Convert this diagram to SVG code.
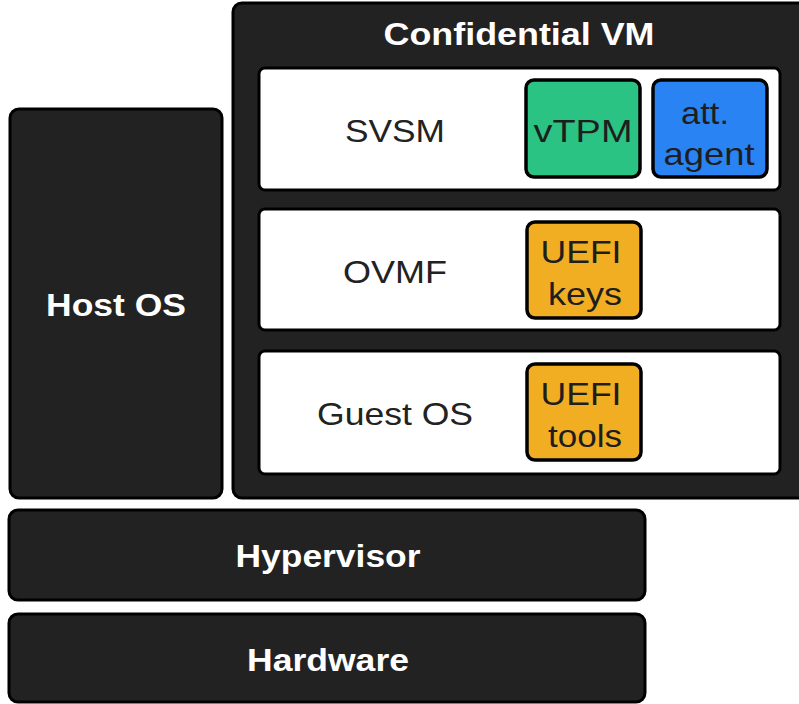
<svg xmlns="http://www.w3.org/2000/svg" width="799" height="704" viewBox="0 0 799 704">
<style>
.dark{fill:#222222;stroke:#000;stroke-width:3}
.white{fill:#ffffff;stroke:#000;stroke-width:3}
.chip{stroke:#000;stroke-width:3.5}
.t{font-family:"Liberation Sans",Arial,sans-serif;font-size:32px;text-anchor:middle}
.tb{font-family:"Liberation Sans",Arial,sans-serif;font-size:31px;font-weight:bold;fill:#ffffff;text-anchor:middle}
.dk{fill:#222222}
.ck{fill:#1e1e1e}
</style>
<rect width="799" height="704" fill="#ffffff"/>
<g id="confidential-vm">
<rect class="dark" x="233" y="3" width="580" height="495" rx="9"/>
<text class="tb" x="519" y="45" textLength="271" lengthAdjust="spacingAndGlyphs">Confidential VM</text>
</g>
<g id="svsm">
<rect class="white" x="259" y="68" width="521" height="122" rx="6"/>
<text class="t dk" x="395" y="142" textLength="100" lengthAdjust="spacingAndGlyphs">SVSM</text>
</g>
<g id="vtpm">
<rect class="chip" x="526" y="80" width="114" height="97" rx="8" fill="#2BC384"/>
<text class="t ck" x="583" y="142" textLength="99" lengthAdjust="spacingAndGlyphs">vTPM</text>
</g>
<g id="att-agent">
<rect class="chip" x="653" y="80" width="114" height="97" rx="8" fill="#2A83F3"/>
<text class="t ck" x="705" y="124" textLength="48" lengthAdjust="spacingAndGlyphs">att.</text>
<text class="t ck" x="709" y="165" textLength="91" lengthAdjust="spacingAndGlyphs">agent</text>
</g>
<g id="ovmf">
<rect class="white" x="259" y="209" width="521" height="121" rx="6"/>
<text class="t dk" x="395" y="283" textLength="104" lengthAdjust="spacingAndGlyphs">OVMF</text>
</g>
<g id="uefi-keys">
<rect class="chip" x="527" y="222" width="114" height="96" rx="8" fill="#F2AE22"/>
<text class="t ck" x="581" y="263" textLength="81" lengthAdjust="spacingAndGlyphs">UEFI</text>
<text class="t ck" x="585" y="305" textLength="74" lengthAdjust="spacingAndGlyphs">keys</text>
</g>
<g id="guest-os">
<rect class="white" x="259" y="351" width="521" height="123" rx="6"/>
<text class="t dk" x="395" y="425" textLength="156" lengthAdjust="spacingAndGlyphs">Guest OS</text>
</g>
<g id="uefi-tools">
<rect class="chip" x="527" y="364" width="114" height="96" rx="8" fill="#F2AE22"/>
<text class="t ck" x="581" y="405" textLength="81" lengthAdjust="spacingAndGlyphs">UEFI</text>
<text class="t ck" x="585" y="447" textLength="74" lengthAdjust="spacingAndGlyphs">tools</text>
</g>
<g id="host-os">
<rect class="dark" x="10" y="109" width="212" height="389" rx="9"/>
<text class="tb" x="116" y="316" textLength="140" lengthAdjust="spacingAndGlyphs">Host OS</text>
</g>
<g id="hypervisor">
<rect class="dark" x="9" y="510" width="636" height="90" rx="9"/>
<text class="tb" x="328" y="567" textLength="185" lengthAdjust="spacingAndGlyphs">Hypervisor</text>
</g>
<g id="hardware">
<rect class="dark" x="9" y="614" width="636" height="88" rx="9"/>
<text class="tb" x="328" y="671" textLength="162" lengthAdjust="spacingAndGlyphs">Hardware</text>
</g>
<g id="connectors"></g>
</svg>
